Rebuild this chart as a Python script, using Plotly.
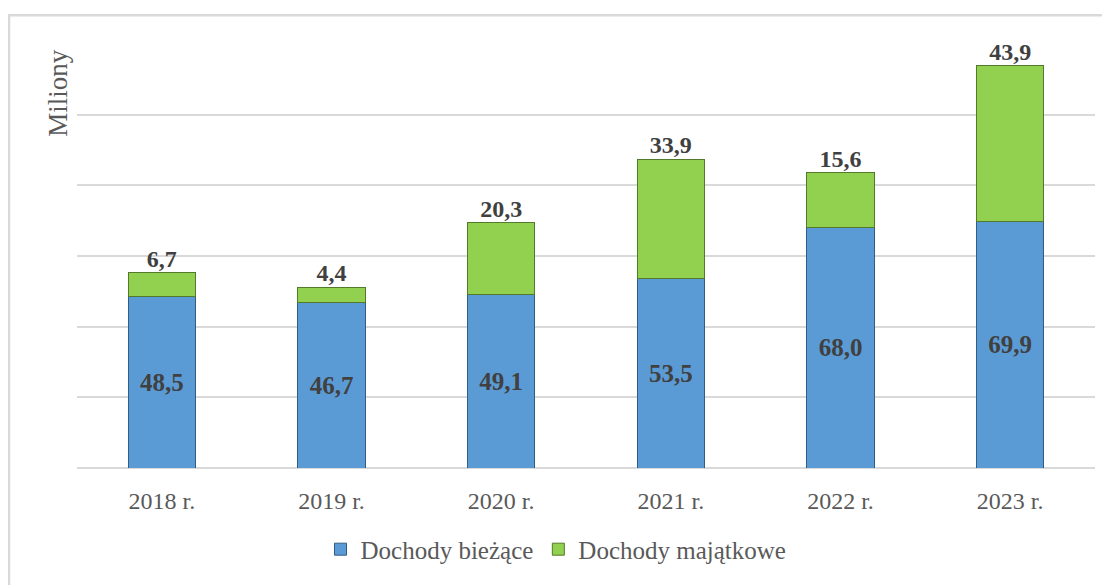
import plotly.graph_objects as go

years = ["2018 r.", "2019 r.", "2020 r.", "2021 r.", "2022 r.", "2023 r."]
biezace = [48.5, 46.7, 49.1, 53.5, 68.0, 69.9]
majatkowe = [6.7, 4.4, 20.3, 33.9, 15.6, 43.9]
names = ["Dochody bieżące", "Dochody majątkowe"]

def fmt(v):
    return f"{v:.1f}".replace(".", ",")

totals = [a + b for a, b in zip(biezace, majatkowe)]

FONT = "Liberation Serif"
# page has an 8px body margin; plot area in page coords: x 77..1095, y 44..471
OFF = 8
W, H = 1110 - OFF, 585 - OFF
PL, PR, PT, PB = 77, 1095, 44, 471
L, T = PL - OFF, PT - OFF
R = W - (PR - OFF)
B = H - (PB - OFF)
pw = PR - PL
ph = PB - PT

def px(p):
    return (p - PL) / pw

def py(q):
    return (PB - q) / ph

fig = go.Figure()
fig.add_trace(go.Bar(
    x=years, y=biezace, name=names[0],
    marker=dict(color="#5B9BD5", line=dict(color="#2F5D86", width=1)),
    text=[fmt(v) for v in biezace], textposition="inside",
    insidetextanchor="middle",
    textfont=dict(family=FONT, size=25, color="#404040", weight="bold"),
    cliponaxis=False,
))
fig.add_trace(go.Bar(
    x=years, y=majatkowe, name=names[1],
    marker=dict(color="#92D050", line=dict(color="#527A2A", width=1)),
    cliponaxis=False,
))
fig.add_trace(go.Scatter(
    x=years, y=totals, mode="text", showlegend=False,
    text=[fmt(v) for v in majatkowe], textposition="top center",
    textfont=dict(family=FONT, size=24, color="#404040", weight="bold"),
    cliponaxis=False, hoverinfo="skip",
))

fig.update_layout(
    width=W, height=H,
    barmode="stack", bargap=0.605,
    margin=dict(l=L, r=R, t=T, b=B),
    paper_bgcolor="white", plot_bgcolor="white",
    font=dict(family=FONT, color="#595959"),
    showlegend=True,
    legend=dict(orientation="h", traceorder="normal",
                x=px(556), xanchor="center", y=py(553), yanchor="middle",
                font=dict(family=FONT, size=25, color="#595959"),
                itemwidth=30, tracegroupgap=0),
    xaxis=dict(showgrid=False, showline=False, zeroline=False, ticks="outside",
               ticklen=11, tickcolor="rgba(0,0,0,0)",
               tickfont=dict(family=FONT, size=24, color="#595959")),
    yaxis=dict(range=[0, 120], dtick=20, showgrid=True, gridcolor="#D9D9D9", gridwidth=2,
               showticklabels=False, zeroline=True, zerolinecolor="#D9D9D9", zerolinewidth=2,
               showline=False),
)

fig.add_annotation(text="Miliony", textangle=-90, xref="paper", yref="paper",
                   x=px(58), y=py(93), xanchor="center", yanchor="middle",
                   showarrow=False, font=dict(family=FONT, size=27, color="#595959"))

fig.add_shape(type="rect", xref="paper", yref="paper",
              x0=px(9), x1=px(1130), y0=py(610), y1=py(15),
              line=dict(color="#D9D9D9", width=2.5), fillcolor="rgba(0,0,0,0)", layer="below")

fig.write_html("out.html")
